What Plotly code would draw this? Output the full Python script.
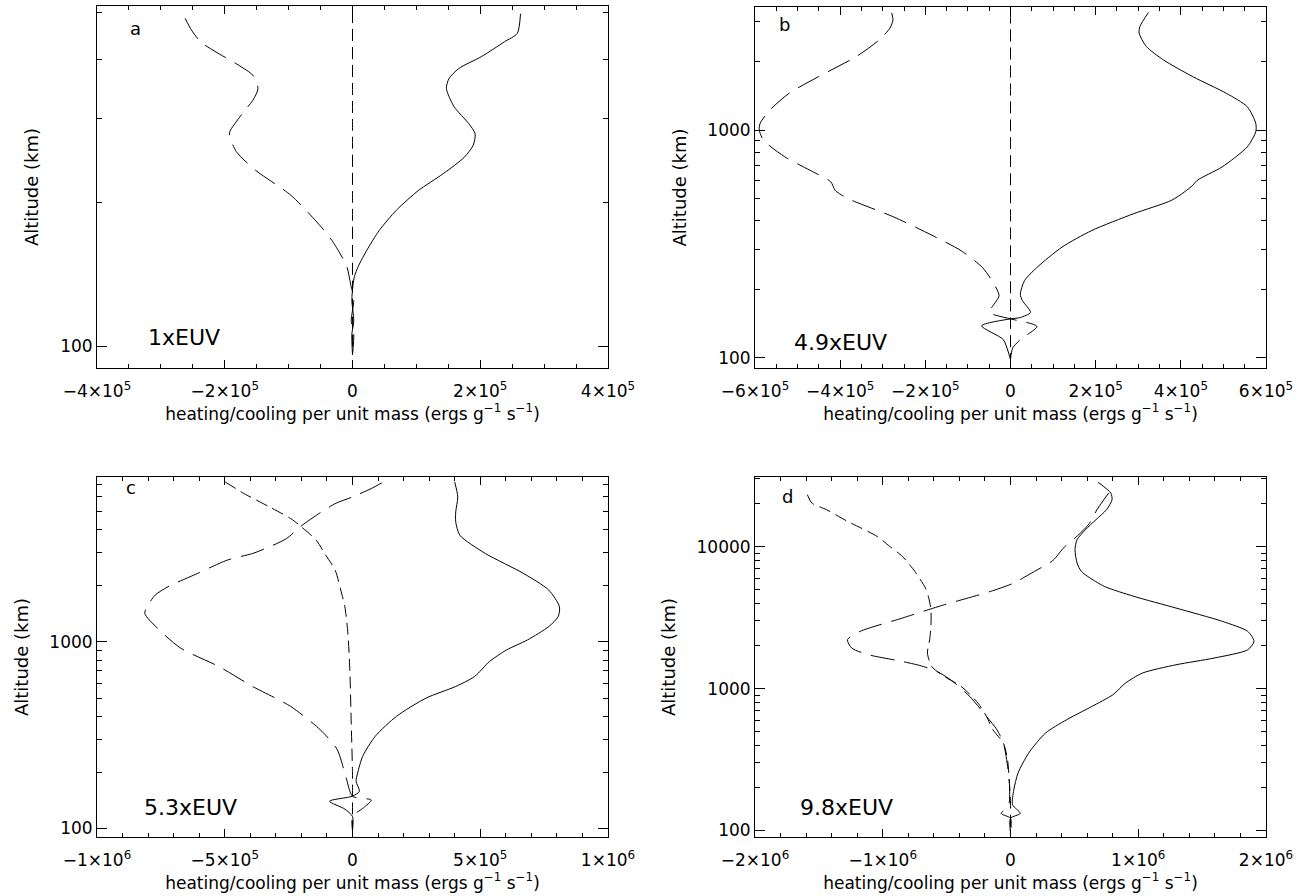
import math
import plotly.graph_objects as go

# ---------------- data ----------------
# Panel a (1xEUV)
a_solid_x = [2.63e5, 2.58e5, 2.38e5, 2.02e5, 1.66e5, 1.51e5, 1.47e5, 1.59e5, 1.82e5, 1.92e5, 1.89e5, 1.75e5,
             1.42e5, 1.03e5, 0.69e5, 0.42e5, 0.225e5, 0.09e5, 0.03e5, 0.01e5, -0.01e5, 0.02e5, -0.01e5, 0]
a_solid_alt = [498, 453, 435, 405, 382, 364, 347, 318, 293, 279, 264, 249, 230, 212, 193, 175, 159, 147, 140,
               135, 125, 113, 106, 96]
a_long_x = [-2.62e5, -2.52e5, -2.38e5, -2.15e5, -1.79e5, -1.56e5, -1.48e5, -1.56e5, -1.72e5, -1.92e5, -1.92e5,
            -1.82e5, -1.52e5, -0.96e5, -0.46e5, -0.30e5, -0.09e5, -0.03e5, 0.02e5, -0.02e5, 0.02e5, 0]
a_long_alt = [487, 460, 435, 415, 389, 370, 347, 328, 308, 282, 275, 256, 234, 207, 176, 165, 147, 135, 125,
              113, 106, 96]
a_med_x = [0, 0, 0, 0, 0]
a_med_alt = [505, 300, 200, 150, 96]

# Panel b (4.9xEUV)
b_solid_x = [3.24e5, 3.04e5, 3.02e5, 3.19e5, 3.59e5, 4.28e5, 5.07e5, 5.56e5, 5.76e5, 5.76e5, 5.56e5, 4.97e5,
             4.38e5, 4.28e5, 4.08e5, 3.78e5, 2.89e5, 1.91e5, 1.21e5, 0.62e5, 0.33e5, 0.23e5, 0.28e5, 0.47e5,
             0.23e5, 0, -0.68e5, -0.17e5, -0.06e5, 0]
b_solid_alt = [3293, 2857, 2670, 2332, 2036, 1718, 1451, 1267, 1070, 983, 844, 689, 601, 572, 534, 491, 429,
               362, 306, 249, 218, 190, 178, 158, 150, 148, 138, 120, 107, 98]
b_long_x = [-2.79e5, -2.76e5, -2.83e5, -3.08e5, -3.62e5, -4.51e5, -5.2e5, -5.65e5, -5.88e5, -5.9e5, -5.8e5,
            -5.3e5, -4.71e5, -4.22e5, -4.12e5, -4.02e5, -3.72e5, -2.74e5, -1.75e5, -1.16e5, -0.66e5, -0.41e5,
            -0.27e5, -0.50e5, -0.32e5, 0, 0.62e5, 0.23e5, 0.05e5, 0]
b_long_alt = [3271, 3055, 2810, 2495, 2106, 1718, 1451, 1225, 1070, 1000, 903, 763, 666, 592, 544, 526, 491,
              415, 338, 295, 249, 214, 187, 158, 153, 148, 137, 120, 110, 98]
b_med_x = [0, 0, 0, 0, 0]
b_med_alt = [3330, 1000, 300, 148, 98]

# Panel c (5.3xEUV)
c_solid_x = [4.0e5, 4.12e5, 4.04e5, 4.04e5, 4.2e5, 5.2e5, 6.69e5, 7.68e5, 8.1e5, 8.05e5, 7.68e5, 6.85e5,
             6.03e5, 5.36e5, 4.78e5, 4.04e5, 2.88e5, 1.72e5, 0.89e5, 0.40e5, 0.2e5, 0.14e5, 0.27e5, 0,
             -0.9e5, -0.3e5, 0, 0]
c_solid_alt = [7197, 5987, 4977, 4401, 3735, 2979, 2330, 1897, 1545, 1366, 1208, 1025, 906, 785, 653, 577, 500,
               399, 312, 244, 198, 179, 158, 149, 140, 127, 116, 97]
c_long_x = [1.14e5, 0.73e5, 0, -0.68e5, -1.51e5, -2.05e5, -2.58e5, -3.25e5, -3.91e5, -4.9e5, -6.06e5, -7.22e5,
            -7.72e5, -7.96e5, -8.13e5, -7.63e5, -6.72e5, -5.23e5, -3.91e5, -2.42e5, -1.26e5, -0.6e5, -0.25e5,
            0, 0.73e5, 0.43e5, 0, 0]
c_long_alt = [7112, 6637, 5987, 5514, 4677, 4139, 3583, 3235, 2979, 2745, 2330, 1977, 1784, 1610, 1423, 1183,
              925, 738, 577, 451, 338, 265, 187, 149, 142, 129, 116, 97]
c_med_x = [-4.98e5, -4.24e5, -3.25e5, -2.42e5, -2.0e5, -1.42e5, -1.09e5, -0.68e5, -0.46e5, -0.30e5, -0.18e5,
           -0.1e5, -0.05e5, 0, 0, 0]
c_med_alt = [7197, 6237, 5293, 4585, 4139, 3512, 2979, 2427, 1897, 1545, 1113, 680, 367, 198, 150, 97]

# Panel d (9.8xEUV)
d_solid_x = [0.686e6, 0.785e6, 0.795e6, 0.752e6, 0.669e6, 0.587e6, 0.521e6, 0.505e6, 0.521e6, 0.554e6, 0.603e6,
             0.735e6, 0.966e6, 1.296e6, 1.659e6, 1.857e6, 1.906e6, 1.857e6, 1.593e6, 1.296e6, 1.032e6, 0.900e6,
             0.801e6, 0.636e6, 0.439e6, 0.274e6, 0.142e6, 0.059e6, 0.026e6, 0.016e6, 0.076e6, 0, 0]
d_solid_alt = [28420, 23880, 21450, 18240, 15500, 13180, 11200, 9525, 7675, 6700, 6180, 5250, 4466, 3695, 2976,
               2530, 2150, 1878, 1641, 1472, 1286, 1093, 904, 748, 603, 486, 351, 254, 193.5, 152, 132, 122, 96]
d_long_x = [0.768e6, 0.669e6, 0.653e6, 0.587e6, 0.505e6, 0.422e6, 0.333e6, 0.257e6, 0.142e6, 0.026e6, -0.155e6,
            -0.287e6, -0.518e6, -0.847e6, -1.177e6, -1.276e6, -1.243e6, -1.111e6, -0.847e6, -0.683e6, -0.551e6,
            -0.452e6, -0.320e6, -0.188e6, -0.106e6, -0.056e6, -0.03e6, -0.007e6, -0.016e6, -0.073e6, 0, 0]
d_long_alt = [23880, 17740, 16190, 13540, 11510, 9946, 8010, 7266, 6346, 5543, 4842, 4466, 3900, 3140, 2530, 2210,
              1930, 1732, 1554, 1432, 1286, 1123, 881, 637, 513, 413, 315, 204, 148, 132, 122, 96]
d_med_x = [-1.59e6, -1.556e6, -1.441e6, -1.276e6, -1.045e6, -0.946e6, -0.847e6, -0.749e6, -0.666e6, -0.643e6,
           -0.623e6, -0.623e6, -0.633e6, -0.65e6, -0.617e6, -0.518e6, -0.386e6, -0.254e6, -0.188e6, -0.138e6,
           -0.056e6, -0.023e6, -0.007e6, 0, 0]
d_med_alt = [23260, 20320, 18240, 15090, 11830, 10060, 8550, 6700, 5112, 4466, 3597, 2742, 2210, 1780, 1432, 1218,
             1035, 790, 637, 513, 413, 315, 204, 156, 96]

# tick labels
a_xticks = [-4e5, -2e5, 0, 2e5, 4e5]
a_xlabels = ["−4×10<sup>5</sup>", "−2×10<sup>5</sup>", "0", "2×10<sup>5</sup>", "4×10<sup>5</sup>"]
b_xticks = [-6e5, -4e5, -2e5, 0, 2e5, 4e5, 6e5]
b_xlabels = ["−6×10<sup>5</sup>", "−4×10<sup>5</sup>", "−2×10<sup>5</sup>", "0", "2×10<sup>5</sup>",
             "4×10<sup>5</sup>", "6×10<sup>5</sup>"]
c_xticks = [-1e6, -5e5, 0, 5e5, 1e6]
c_xlabels = ["−1×10<sup>6</sup>", "−5×10<sup>5</sup>", "0", "5×10<sup>5</sup>", "1×10<sup>6</sup>"]
d_xticks = [-2e6, -1e6, 0, 1e6, 2e6]
d_xlabels = ["−2×10<sup>6</sup>", "−1×10<sup>6</sup>", "0", "1×10<sup>6</sup>", "2×10<sup>6</sup>"]
a_yticks, a_ylabels = [100], ["100"]
b_yticks, b_ylabels = [100, 1000], ["100", "1000"]
c_yticks, c_ylabels = [100, 1000], ["100", "1000"]
d_yticks, d_ylabels = [100, 1000, 10000], ["100", "1000", "10000"]
euv_labels = ["1xEUV", "4.9xEUV", "5.3xEUV", "9.8xEUV"]
panel_letters = ["a", "b", "c", "d"]
x_title = "heating/cooling per unit mass (ergs g<sup>−1</sup> s<sup>−1</sup>)"
y_title = "Altitude (km)"

# ---------------- layout ----------------
W, H = 1307, 896
FONT = "DejaVu Sans"
TICKSIZE = 17

panels = [
    dict(px=(97, 608), py=(6, 368), xr=(-4e5, 4e5), ytop=517, xminor=5e4,
         xt=a_xticks, xl=a_xlabels, yt=a_yticks, yl=a_ylabels,
         series=[(a_solid_x, a_solid_alt, "solid"), (a_long_x, a_long_alt, "long"), (a_med_x, a_med_alt, "med")],
         letter=(135, 28), euv=(184, 338)),
    dict(px=(755, 1266), py=(7, 368), xr=(-6e5, 6e5), ytop=3477, xminor=5e4,
         xt=b_xticks, xl=b_xlabels, yt=b_yticks, yl=b_ylabels,
         series=[(b_solid_x, b_solid_alt, "solid"), (b_long_x, b_long_alt, "long"), (b_med_x, b_med_alt, "med")],
         letter=(784, 25), euv=(840, 342)),
    dict(px=(97, 608), py=(477, 837), xr=(-1e6, 1e6), ytop=7657, xminor=1e5,
         xt=c_xticks, xl=c_xlabels, yt=c_yticks, yl=c_ylabels,
         series=[(c_solid_x, c_solid_alt, "solid"), (c_long_x, c_long_alt, "long"), (c_med_x, c_med_alt, "med")],
         letter=(131, 488), euv=(190, 807)),
    dict(px=(755, 1266), py=(477, 837), xr=(-2e6, 2e6), ytop=30980, xminor=2e5,
         xt=d_xticks, xl=d_xlabels, yt=d_yticks, yl=d_ylabels,
         series=[(d_solid_x, d_solid_alt, "solid"), (d_long_x, d_long_alt, "long"), (d_med_x, d_med_alt, "med")],
         letter=(787, 496), euv=(846, 807)),
]

DASH = {"solid": "solid", "long": "24px,10px", "med": "12px,6px"}

fig = go.Figure()
annotations = []
layout = {}
for i, p in enumerate(panels):
    n = "" if i == 0 else str(i + 1)
    xa, ya = "x" + n, "y" + n
    for xs, ys, style in p["series"]:
        fig.add_trace(go.Scatter(x=xs, y=ys, mode="lines", xaxis=xa, yaxis=ya, showlegend=False,
                                 line=dict(color="black", width=1, dash=DASH[style], shape="spline",
                                           smoothing=0.7),
                                 hoverinfo="skip"))
    x0, x1 = p["px"]
    y0, y1 = p["py"]
    dom_x = [x0 / W, x1 / W]
    dom_y = [1 - y1 / H, 1 - y0 / H]
    lo = math.log10(90)
    hi = math.log10(p["ytop"])
    yminor = [m * 10 ** d for d in range(2, 5) for m in range(2, 10)
              if lo < math.log10(m * 10 ** d) < hi]
    layout["xaxis" + n] = dict(
        domain=dom_x, range=list(p["xr"]), anchor=ya, showgrid=False, zeroline=False,
        showline=True, linecolor="black", linewidth=1, mirror="allticks",
        tickmode="array", tickvals=p["xt"], ticktext=p["xl"], ticks="inside", ticklen=8,
        tickcolor="black", tickwidth=1, ticklabelstandoff=8,
        minor=dict(ticks="inside", ticklen=4, dtick=p["xminor"], tick0=0, tickcolor="black", showgrid=False),
        tickfont=dict(family=FONT, size=TICKSIZE, color="black"),
        title=dict(text=x_title, font=dict(family=FONT, size=TICKSIZE, color="black"), standoff=0),
        automargin=False,
    )
    layout["yaxis" + n] = dict(
        domain=dom_y, type="log", range=[lo, hi], anchor=xa, showgrid=False, zeroline=False,
        showline=True, linecolor="black", linewidth=1, mirror="allticks",
        tickmode="array", tickvals=p["yt"], ticktext=p["yl"], ticks="inside", ticklen=10,
        tickcolor="black", tickwidth=1,
        minor=dict(ticks="inside", ticklen=5, tickvals=yminor, tickcolor="black", showgrid=False),
        tickfont=dict(family=FONT, size=TICKSIZE, color="black"),
        title=dict(text=y_title, font=dict(family=FONT, size=18, color="black"), standoff=16),
        automargin=False,
    )
    lx, ly = p["letter"]
    annotations.append(dict(text=panel_letters[i], xref="paper", yref="paper", x=lx / W, y=1 - ly / H,
                            xanchor="center", yanchor="middle", showarrow=False,
                            font=dict(family=FONT, size=18, color="black")))
    ex, ey = p["euv"]
    annotations.append(dict(text=euv_labels[i], xref="paper", yref="paper", x=ex / W, y=1 - ey / H,
                            xanchor="center", yanchor="middle", showarrow=False,
                            font=dict(family=FONT, size=22, color="black")))

fig.update_layout(**layout)
fig.update_layout(width=W, height=H, margin=dict(l=0, r=0, t=0, b=0), autosize=False,
                  paper_bgcolor="white", plot_bgcolor="white", annotations=annotations,
                  font=dict(family=FONT, color="black"))

fig.write_html("out.html", config={"displayModeBar": False},
               post_script="document.body.style.margin='0';document.body.style.overflow='hidden';")
